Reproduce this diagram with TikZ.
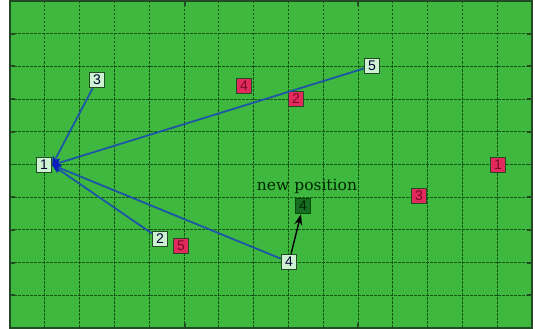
\documentclass[tikz,border=0pt]{standalone}
\usepackage{fontspec}
\setmainfont{DejaVu Serif}
\newfontfamily\digitfont{Liberation Sans}
\usetikzlibrary{arrows.meta}
\definecolor{bggreen}{RGB}{62,184,62}
\definecolor{frame}{RGB}{35,75,35}
\definecolor{gridc}{RGB}{22,85,22}
\definecolor{redfill}{RGB}{226,42,92}
\definecolor{redtext}{RGB}{120,10,40}
\definecolor{lightfill}{RGB}{205,242,210}
\definecolor{darkfill}{RGB}{22,108,32}
\definecolor{linkblue}{RGB}{28,86,165}
\definecolor{tipblue}{RGB}{10,30,190}
\tikzset{
  sq/.style={draw=frame, line width=1.5pt, minimum width=15pt, minimum height=15pt, inner sep=0pt, font=\digitfont\fontsize{14}{14}\selectfont},
  redsq/.style={sq, fill=redfill, text=redtext},
  lightsq/.style={sq, fill=lightfill, text=black!80!blue},
  darksq/.style={sq, fill=darkfill, text=black!85!green, draw=black!70!green},
  link/.style={draw=linkblue, line width=1.8pt, -{Stealth[length=9pt,width=8pt,fill=tipblue,color=tipblue]}},
  move/.style={draw=black, line width=1.4pt, -{Stealth[length=11pt,width=8pt]}},
  gridline/.style={draw=gridc, line width=1pt, dash pattern=on 2.5pt off 1.5pt},
  tick/.style={draw=frame, line width=1.8pt}
}
\begin{document}
\begin{tikzpicture}[x=1pt,y=-1pt]
\useasboundingbox (0,0) rectangle (535,329);
\fill[bggreen] (10,1) rectangle (532,328);
% grid
\foreach \k in {1,...,14} {
  \draw[gridline] ({10+34.8*\k},1) -- ({10+34.8*\k},328);
}
\foreach \k in {1,...,9} {
  \draw[gridline] (10,{1+32.7*\k}) -- (532,{1+32.7*\k});
  \draw[tick] (10,{1+32.7*\k}) -- (15,{1+32.7*\k});
  \draw[tick] (527,{1+32.7*\k}) -- (532,{1+32.7*\k});
}
\foreach \x in {184.8,358} {
  \draw[tick] (\x,1) -- (\x,6);
  \draw[tick] (\x,323) -- (\x,328);
}
\draw[frame, line width=2pt] (10,1) rectangle (532,328);
% sensor nodes
\node[redsq] (r1) at (498,165) {1};
\node[redsq] (r2) at (296,99) {2};
\node[redsq] (r3) at (419,196) {3};
\node[redsq] (r4) at (244,86) {4};
\node[redsq] (r5) at (181,246) {5};
% light nodes
\node[lightsq] (s1) at (44,165) {1};
\node[lightsq] (l2) at (160,239) {2};
\node[lightsq] (l3) at (97,80) {3};
\node[lightsq] (l4) at (289,262) {4};
\node[lightsq] (l5) at (372,66) {5};
\node[darksq] (d4) at (303,206) {4};
\node[font=\fontsize{15.5}{15.5}\selectfont, text=black!85!green] (np) at (307,186) {new position};
% links
\draw[link] (l3) -- (s1.east);
\draw[link] (l5) -- (s1.east);
\draw[link] (l2) -- (s1.east);
\draw[link] (l4) -- (s1.east);
\draw[move] (l4) -- (d4);
\end{tikzpicture}
\end{document}
